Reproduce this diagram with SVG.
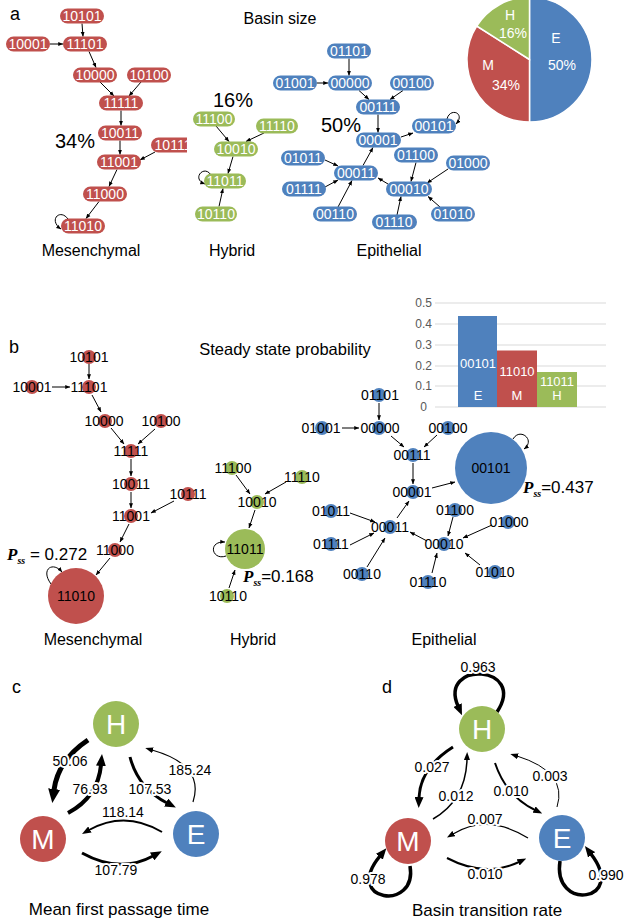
<svg xmlns="http://www.w3.org/2000/svg" width="625" height="919" viewBox="0 0 625 919">
<defs>
<style>
text{font-family:"Liberation Sans",Arial,sans-serif}
.pm rect{fill:#C0504D}.ph rect{fill:#9BBB59}.pe rect{fill:#4F81BD}
.pl text{font-size:14px;fill:#fff;text-anchor:middle}
.cm circle{fill:#C0504D}.ch circle{fill:#9BBB59}.ce circle{fill:#4F81BD}
.cl text{font-size:14px;fill:#000;text-anchor:middle}
.e path{stroke:#000;stroke-width:1;fill:none;marker-end:url(#a)}
.lab{font-size:16px;text-anchor:middle;fill:#000}
.pct{font-size:20px;text-anchor:middle;fill:#000}
.let{font-size:18px;fill:#000}
.big text{font-size:28px;fill:#fff;text-anchor:middle}
.w{font-size:14px;text-anchor:middle;fill:#000;stroke:#fff;stroke-width:4;paint-order:stroke;stroke-linejoin:round}
.k{stroke:#000;fill:none}
.pie text{font-size:14px;fill:#fff;text-anchor:middle}
.bar text{font-size:13px;fill:#fff;text-anchor:middle}
.tick{font-size:12px;fill:#595959;text-anchor:end}
.grid line{stroke:#d9d9d9;stroke-width:1}
.ps{font-family:"Liberation Serif","Times New Roman",serif;font-weight:bold;font-style:italic}
</style>
<marker id="a" viewBox="0 0 10 10" refX="9.5" refY="5" markerWidth="5" markerHeight="5" markerUnits="userSpaceOnUse" orient="auto"><path d="M0,1 L10,5 L0,9 z" fill="#000"/></marker>
<marker id="mL" viewBox="0 0 14 12" refX="1" refY="6" markerWidth="14" markerHeight="12" markerUnits="userSpaceOnUse" orient="auto"><path d="M0,0 L14,6 L0,12 z" fill="#000"/></marker>
<marker id="mM" viewBox="0 0 12 10" refX="1" refY="5" markerWidth="12" markerHeight="10" markerUnits="userSpaceOnUse" orient="auto"><path d="M0,0 L12,5 L0,10 z" fill="#000"/></marker>
<marker id="m3" viewBox="0 0 11 9" refX="1" refY="4.5" markerWidth="11" markerHeight="9" markerUnits="userSpaceOnUse" orient="auto"><path d="M0,0 L11,4.5 L0,9 z" fill="#000"/></marker>
<marker id="m2" viewBox="0 0 9 7" refX="1" refY="3.5" markerWidth="9" markerHeight="7" markerUnits="userSpaceOnUse" orient="auto"><path d="M0,0 L9,3.5 L0,7 z" fill="#000"/></marker>
<marker id="m1" viewBox="0 0 8 6" refX="1" refY="3" markerWidth="8" markerHeight="6" markerUnits="userSpaceOnUse" orient="auto"><path d="M0,0 L8,3 L0,6 z" fill="#000"/></marker>
<clipPath id="clipM"><rect x="0" y="0" width="187" height="300"/></clipPath>
</defs>
<rect width="625" height="919" fill="#fff"/>

<!-- ===== Panel a ===== -->
<text class="let" x="10" y="20">a</text>
<text class="lab" x="280" y="24">Basin size</text>

<g id="a-edges" class="e">
<path d="M82,23.5 L83,36.5"/><path d="M50,44 L63,44"/><path d="M89,51.5 L96,67.5"/>
<path d="M100,82 L114,96"/><path d="M141,82 L129,96"/><path d="M121,110.5 L121,125.5"/>
<path d="M120,140.5 L120,154.5"/><path d="M155,152 L140,160"/><path d="M117,169.5 L109,186.5"/>
<path d="M99,201.5 L86,218.5"/><path d="M68,219 C60,208 48,220 61,229"/>
<path d="M216,126 L229,141.5"/><path d="M264,133 L246,141.5"/><path d="M233,156.5 L228,173.5"/>
<path d="M219,206.5 L223,188.5"/><path d="M211,175 C204,164 191,179 205,184"/>
<path d="M349,58.5 L349,75.5"/><path d="M317,83 L328,83"/><path d="M359,90.5 L369,99.5"/>
<path d="M403,90.5 L390,99.5"/><path d="M378,114.5 L378,132.5"/><path d="M401,137 L413,133"/>
<path d="M325,160 L338,166"/><path d="M325,187 L338,180"/><path d="M338,207 L352,180.5"/>
<path d="M363,165.5 L373,147.5"/><path d="M388,184 L378,178"/><path d="M416,162.5 L411,181.5"/>
<path d="M448,169 L427,183"/><path d="M397,215 L401,196.5"/><path d="M440,207 L428,196.5"/>
<path d="M447,119 C450,107 466,113 456,124"/>
</g>

<g class="pm pl">
<g id="a-10101"><rect x="60" y="8.5" width="44" height="15" rx="7.5"/><text x="82" y="21">10101</text></g>
<g id="a-10001"><rect x="6" y="36.5" width="44" height="15" rx="7.5"/><text x="28" y="49">10001</text></g>
<g id="a-11101"><rect x="63" y="36.5" width="44" height="15" rx="7.5"/><text x="85" y="49">11101</text></g>
<g id="a-10000"><rect x="73" y="67.5" width="44" height="15" rx="7.5"/><text x="95" y="80">10000</text></g>
<g id="a-10100"><rect x="127" y="67.5" width="44" height="15" rx="7.5"/><text x="149" y="80">10100</text></g>
<g id="a-11111"><rect x="99" y="95.5" width="44" height="15" rx="7.5"/><text x="121" y="108">11111</text></g>
<g id="a-10011"><rect x="98" y="125.5" width="44" height="15" rx="7.5"/><text x="120" y="138">10011</text></g>
<g id="a-10111" clip-path="url(#clipM)"><rect x="151" y="137.5" width="44" height="15" rx="7.5"/><text x="173" y="150">10111</text></g>
<g id="a-11001"><rect x="97" y="154.5" width="44" height="15" rx="7.5"/><text x="119" y="167">11001</text></g>
<g id="a-11000"><rect x="83" y="186.5" width="44" height="15" rx="7.5"/><text x="105" y="199">11000</text></g>
<g id="a-11010"><rect x="61" y="218.5" width="44" height="15" rx="7.5"/><text x="83" y="231">11010</text></g>
</g>
<g class="ph pl">
<g id="a-11100"><rect x="193" y="111.5" width="42" height="15" rx="7.5"/><text x="214" y="124">11100</text></g>
<g id="a-11110"><rect x="256" y="118.5" width="42" height="15" rx="7.5"/><text x="277" y="131">11110</text></g>
<g id="a-10010"><rect x="214" y="141.5" width="44" height="15" rx="7.5"/><text x="236" y="154">10010</text></g>
<g id="a-11011"><rect x="204" y="173.5" width="42" height="15" rx="7.5"/><text x="225" y="186">11011</text></g>
<g id="a-10110"><rect x="195" y="206.5" width="42" height="15" rx="7.5"/><text x="216" y="219">10110</text></g>
</g>
<g class="pe pl">
<g id="a-01101"><rect x="327" y="43.5" width="44" height="15" rx="7.5"/><text x="349" y="56">01101</text></g>
<g id="a-01001"><rect x="273" y="75.5" width="44" height="15" rx="7.5"/><text x="295" y="88">01001</text></g>
<g id="a-00000"><rect x="328" y="75.5" width="44" height="15" rx="7.5"/><text x="350" y="88">00000</text></g>
<g id="a-00100"><rect x="390" y="75.5" width="44" height="15" rx="7.5"/><text x="412" y="88">00100</text></g>
<g id="a-00111"><rect x="356" y="99.5" width="44" height="15" rx="7.5"/><text x="378" y="112">00111</text></g>
<g id="a-00101"><rect x="412" y="118.5" width="44" height="15" rx="7.5"/><text x="434" y="131">00101</text></g>
<g id="a-00001"><rect x="356" y="132.5" width="45" height="15" rx="7.5"/><text x="378" y="145">00001</text></g>
<g id="a-01011"><rect x="281" y="150.5" width="44" height="15" rx="7.5"/><text x="303" y="163">01011</text></g>
<g id="a-01100"><rect x="394" y="147.5" width="44" height="15" rx="7.5"/><text x="416" y="160">01100</text></g>
<g id="a-01000"><rect x="446" y="155.5" width="44" height="15" rx="7.5"/><text x="468" y="168">01000</text></g>
<g id="a-00011"><rect x="334" y="165.5" width="44" height="15" rx="7.5"/><text x="356" y="178">00011</text></g>
<g id="a-01111"><rect x="282" y="181.5" width="44" height="15" rx="7.5"/><text x="304" y="194">01111</text></g>
<g id="a-00010"><rect x="386" y="181.5" width="46" height="15" rx="7.5"/><text x="409" y="194">00010</text></g>
<g id="a-00110"><rect x="313" y="206.5" width="44" height="15" rx="7.5"/><text x="335" y="219">00110</text></g>
<g id="a-01110"><rect x="372" y="214.5" width="45" height="15" rx="7.5"/><text x="394" y="227">01110</text></g>
<g id="a-01010"><rect x="431" y="206.5" width="44" height="15" rx="7.5"/><text x="453" y="219">01010</text></g>
</g>

<text class="pct" x="75" y="148">34%</text>
<text class="pct" x="233" y="107">16%</text>
<text class="pct" x="341" y="132">50%</text>
<text class="lab" x="91" y="256">Mesenchymal</text>
<text class="lab" x="232" y="256">Hybrid</text>
<text class="lab" x="389" y="256">Epithelial</text>

<g id="pie" class="pie">
<path d="M529.5,59.5 L529.5,-3 A62.5,62.5 0 0 1 529.5,122 Z" fill="#4F81BD" stroke="#fff" stroke-width="1.5"/>
<path d="M529.5,59.5 L529.5,122 A62.5,62.5 0 0 1 476.7,26 Z" fill="#C0504D" stroke="#fff" stroke-width="1.5"/>
<path d="M529.5,59.5 L476.7,26 A62.5,62.5 0 0 1 529.5,-3 Z" fill="#9BBB59" stroke="#fff" stroke-width="1.5"/>
<text x="510" y="20">H</text><text x="513" y="38">16%</text>
<text x="556" y="43">E</text><text x="562" y="70">50%</text>
<text x="488" y="70">M</text><text x="506" y="90">34%</text>
</g>

<!-- ===== Panel b ===== -->
<text class="let" x="9" y="353">b</text>
<text class="lab" x="285" y="355" style="font-size:16.5px">Steady state probability</text>

<g id="bar">
<g class="grid">
<line x1="435" y1="303" x2="606" y2="303"/><line x1="435" y1="324" x2="606" y2="324"/>
<line x1="435" y1="345" x2="606" y2="345"/><line x1="435" y1="366" x2="606" y2="366"/>
<line x1="435" y1="386" x2="606" y2="386"/><line x1="435" y1="407" x2="606" y2="407"/>
</g>
<text class="tick" x="432" y="307">0.5</text><text class="tick" x="432" y="328">0.4</text>
<text class="tick" x="432" y="349">0.3</text><text class="tick" x="432" y="370">0.2</text>
<text class="tick" x="432" y="390">0.1</text><text class="tick" x="427" y="411">0</text>
<g class="bar">
<rect x="458" y="316" width="39" height="91" fill="#4F81BD"/>
<rect x="497" y="350.5" width="40" height="56.5" fill="#C0504D"/>
<rect x="537" y="372" width="40" height="35" fill="#9BBB59"/>
<text x="478" y="368">00101</text><text x="478" y="400">E</text>
<text x="517" y="376">11010</text><text x="517" y="400">M</text>
<text x="557" y="386">11011</text><text x="557" y="400">H</text>
</g>
</g>

<g id="b-edges" class="e">
<path d="M89,364 L89,379"/><path d="M52,387 L70,387"/><path d="M92,395 L101,412"/>
<path d="M111,428 L124,444"/><path d="M155,429 L138,444"/><path d="M131,459 L131,476"/>
<path d="M131,492 L131,508"/><path d="M174,501 L151,513"/><path d="M129,524 L120,542"/>
<path d="M110,558 L96,575"/><path d="M51,584 C40,569 53,561 62,572"/>
<path d="M236,475 L250,494"/><path d="M286,482 L265,494"/><path d="M255,510 L249,528"/>
<path d="M229,588 L235,570"/><path d="M226,556 C212,561 207,541 225,542"/>
<path d="M379,403 L379,420"/><path d="M342,428 L359,428"/><path d="M391,436 L404,447"/>
<path d="M437,435 L424,447"/><path d="M413,463 L413,484"/><path d="M432,488 L455,482"/>
<path d="M350,513 L375,522"/><path d="M350,545 L374,533"/><path d="M367,567 L385,538"/>
<path d="M397,518 L409,501"/><path d="M427,541 L410,532"/><path d="M453,517 L448,536"/>
<path d="M492,525 L463,538"/><path d="M432,573 L437,553"/><path d="M480,565 L465,553"/>
<path d="M513,439 C520,427 536,440 524,449"/>
</g>

<g class="cm cl">
<g id="b-10101"><circle cx="89" cy="357" r="7"/><text x="89" y="362">10101</text></g>
<g id="b-10001"><circle cx="32" cy="387" r="7"/><text x="32" y="392">10001</text></g>
<g id="b-11101"><circle cx="89" cy="387" r="7"/><text x="89" y="392">11101</text></g>
<g id="b-10000"><circle cx="105" cy="421" r="7"/><text x="104" y="426">10000</text></g>
<g id="b-10100"><circle cx="161" cy="421" r="7"/><text x="161" y="426">10100</text></g>
<g id="b-11111"><circle cx="131" cy="451" r="7"/><text x="131" y="456">11111</text></g>
<g id="b-10011"><circle cx="131" cy="484" r="7"/><text x="131" y="489">10011</text></g>
<g id="b-10111"><circle cx="188" cy="494" r="7"/><text x="188" y="499">10111</text></g>
<g id="b-11001"><circle cx="131" cy="516" r="7"/><text x="131" y="521">11001</text></g>
<g id="b-11000"><circle cx="115" cy="550" r="7"/><text x="115" y="555">11000</text></g>
<g id="b-11010"><circle cx="76" cy="596" r="28"/><text x="76" y="601">11010</text></g>
</g>
<g class="ch cl">
<g id="b-11100"><circle cx="232" cy="468" r="7"/><text x="233" y="473">11100</text></g>
<g id="b-11110"><circle cx="302" cy="477" r="7"/><text x="302" y="482">11110</text></g>
<g id="b-10010"><circle cx="257" cy="502" r="7"/><text x="257" y="507">10010</text></g>
<g id="b-11011"><circle cx="245" cy="549" r="20"/><text x="245" y="554">11011</text></g>
<g id="b-10110"><circle cx="227" cy="596" r="7"/><text x="228" y="601">10110</text></g>
</g>
<g class="ce cl">
<g id="b-01101"><circle cx="379" cy="395" r="7"/><text x="380" y="400">01101</text></g>
<g id="b-01001"><circle cx="322" cy="428" r="7"/><text x="321" y="433">01001</text></g>
<g id="b-00000"><circle cx="379" cy="428" r="7"/><text x="380" y="433">00000</text></g>
<g id="b-00100"><circle cx="448" cy="428" r="7"/><text x="448" y="433">00100</text></g>
<g id="b-00111"><circle cx="413" cy="455" r="7"/><text x="412" y="460">00111</text></g>
<g id="b-00101"><circle cx="491" cy="468" r="36"/><text x="491" y="473">00101</text></g>
<g id="b-00001"><circle cx="413" cy="492" r="7"/><text x="412" y="497">00001</text></g>
<g id="b-01011"><circle cx="331" cy="511" r="7"/><text x="331" y="516">01011</text></g>
<g id="b-01100"><circle cx="455" cy="510" r="7"/><text x="455" y="515">01100</text></g>
<g id="b-01000"><circle cx="508" cy="522" r="7"/><text x="509" y="527">01000</text></g>
<g id="b-00011"><circle cx="390" cy="527" r="7"/><text x="390" y="532">00011</text></g>
<g id="b-01111"><circle cx="331" cy="544" r="7"/><text x="331" y="549">01111</text></g>
<g id="b-00010"><circle cx="444" cy="544" r="7"/><text x="444" y="549">00010</text></g>
<g id="b-00110"><circle cx="362" cy="574" r="7"/><text x="362" y="579">00110</text></g>
<g id="b-01110"><circle cx="428" cy="582" r="7"/><text x="428" y="587">01110</text></g>
<g id="b-01010"><circle cx="495" cy="572" r="7"/><text x="495" y="577">01010</text></g>
</g>

<text x="7" y="560" style="font-size:17px"><tspan class="ps">P</tspan><tspan class="ps" style="font-size:10px" dy="4">ss</tspan><tspan dy="-4"> = 0.272</tspan></text>
<text x="243" y="582" style="font-size:17px"><tspan class="ps">P</tspan><tspan class="ps" style="font-size:10px" dy="4">ss</tspan><tspan dy="-4">=0.168</tspan></text>
<text x="523" y="493" style="font-size:17px"><tspan class="ps">P</tspan><tspan class="ps" style="font-size:10px" dy="4">ss</tspan><tspan dy="-4">=0.437</tspan></text>

<text class="lab" x="93" y="645">Mesenchymal</text>
<text class="lab" x="253" y="645">Hybrid</text>
<text class="lab" x="444" y="645">Epithelial</text>

<!-- ===== Panel c ===== -->
<text class="let" x="12" y="693">c</text>
<g id="c-edges">
<path class="k" d="M88,740 Q58,760 54,790" stroke-width="5" marker-end="url(#mL)"/>
<path class="k" d="M68,813 Q98,797 101,765" stroke-width="4" marker-end="url(#mM)"/>
<path class="k" d="M130,757 Q138,788 167,803" stroke-width="3" marker-end="url(#m3)"/>
<path class="k" d="M193,802 Q205,765 152,750" stroke-width="1.2" marker-end="url(#m1)"/>
<path class="k" d="M162,832 Q125,810 89,830" stroke-width="2" marker-end="url(#m2)"/>
<path class="k" d="M82,853 Q120,874 153,856" stroke-width="3" marker-end="url(#m3)"/>
<text class="w" x="70" y="766">50.06</text>
<text class="w" x="90" y="794">76.93</text>
<text class="w" x="150" y="794">107.53</text>
<text class="w" x="190" y="775">185.24</text>
<text class="w" x="123" y="817">118.14</text>
<text class="w" x="116" y="875">107.79</text>
</g>
<g class="big">
<g id="c-H" class="ch"><circle cx="116" cy="724" r="23"/><text x="116" y="734">H</text></g>
<g id="c-M" class="cm"><circle cx="43" cy="839" r="23"/><text x="43" y="849">M</text></g>
<g id="c-E" class="ce"><circle cx="196" cy="834" r="23"/><text x="196" y="844">E</text></g>
</g>
<text class="lab" x="119" y="915" style="font-size:17px">Mean first passage time</text>

<!-- ===== Panel d ===== -->
<text class="let" x="382" y="693">d</text>
<g id="d-edges">
<path class="k" d="M497,712 C528,665 438,660 458,706" stroke-width="3.5" marker-end="url(#m3)"/>
<path class="k" d="M453,747 Q420,768 419,798" stroke-width="3" marker-end="url(#m3)"/>
<path class="k" d="M433,819 Q466,800 467,759" stroke-width="1.5" marker-end="url(#m1)"/>
<path class="k" d="M495,763 Q506,796 535,810" stroke-width="2" marker-end="url(#m2)"/>
<path class="k" d="M557,807 Q568,772 517,756" stroke-width="1" marker-end="url(#m1)"/>
<path class="k" d="M528,838 Q488,813 453,834" stroke-width="1.2" marker-end="url(#m1)"/>
<path class="k" d="M447,858 Q485,878 519,862" stroke-width="2" marker-end="url(#m2)"/>
<path class="k" d="M410,866 C418,912 342,902 380,856" stroke-width="3.5" marker-end="url(#m3)"/>
<path class="k" d="M560,861 C552,912 628,902 591,854" stroke-width="3.5" marker-end="url(#m3)"/>
<text class="w" x="478" y="672">0.963</text>
<text class="w" x="432" y="772">0.027</text>
<text class="w" x="456" y="801">0.012</text>
<text class="w" x="511" y="796">0.010</text>
<text class="w" x="550" y="781">0.003</text>
<text class="w" x="485" y="824">0.007</text>
<text class="w" x="485" y="879">0.010</text>
<text class="w" x="368" y="884">0.978</text>
<text class="w" x="606" y="880">0.990</text>
</g>
<g class="big">
<g id="d-H" class="ch"><circle cx="482" cy="729" r="23"/><text x="482" y="739">H</text></g>
<g id="d-M" class="cm"><circle cx="408" cy="841" r="23"/><text x="408" y="851">M</text></g>
<g id="d-E" class="ce"><circle cx="562" cy="838" r="23"/><text x="562" y="848">E</text></g>
</g>
<text class="lab" x="487" y="916" style="font-size:17px">Basin transition rate</text>
</svg>
